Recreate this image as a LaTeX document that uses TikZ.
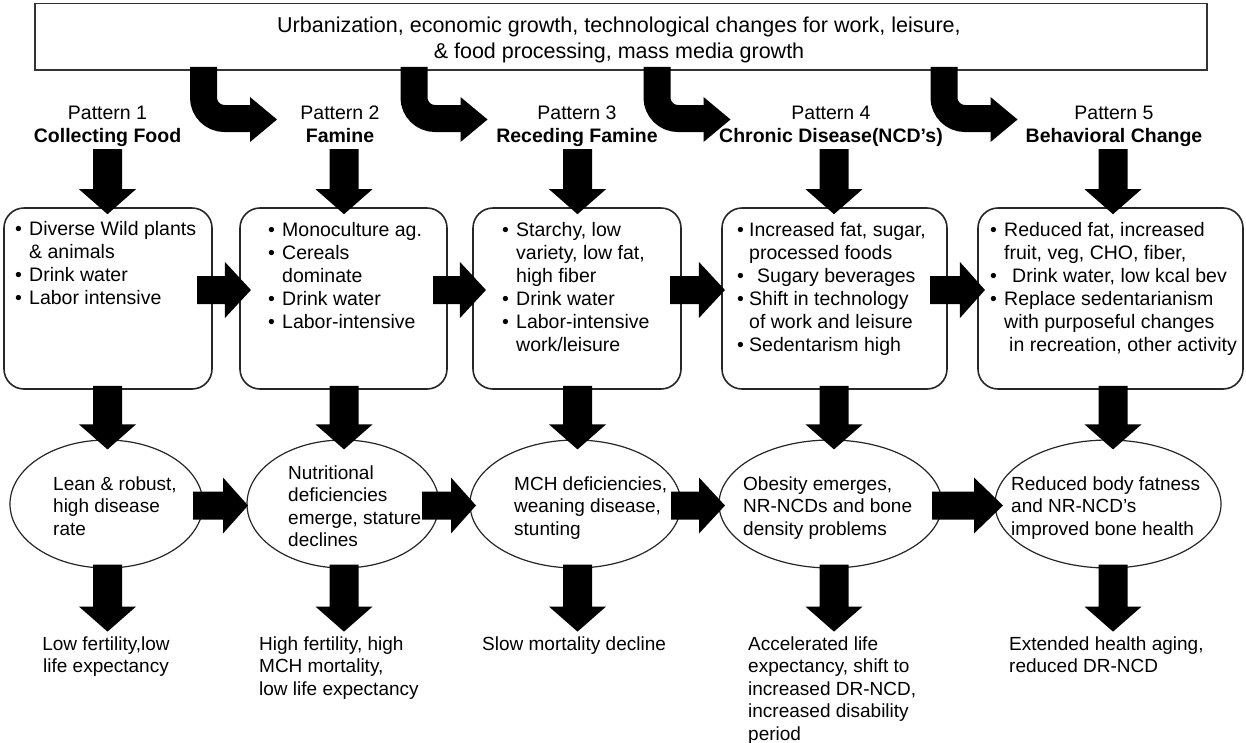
\documentclass[tikz,border=0pt]{standalone}
\usepackage{fontspec}
\setmainfont{Liberation Sans}
\usetikzlibrary{calc,shapes.geometric}
\newcommand{\mylines}[1]{\begin{tabular}[t]{@{}l@{}}#1\end{tabular}}
\newcommand{\mycent}[1]{\begin{tabular}[t]{@{}c@{}}#1\end{tabular}}
\newcommand{\mybul}{\makebox[14pt][l]{•}}
\newcommand{\mybulb}{\makebox[12pt][l]{•}}
\newcommand{\myind}{\hspace*{14pt}}
\newcommand{\myvarrow}[2]{\fill[black] let \p1=(#1), \p2=(#2) in
 (\x2-14.5pt,\y1) -- (\x2+14.5pt,\y1) -- (\x2+14.5pt,\y2+25pt) -- (\x2+28.5pt,\y2+25pt)
 -- (\x2,\y2) -- (\x2-28.5pt,\y2+25pt) -- (\x2-14.5pt,\y2+25pt) -- cycle;}
\newcommand{\myharrow}[3]{\fill[black] let \p1=(#1), \p2=(#2) in
 (\x1,\y2+14pt) -- (\x2-#3,\y2+14pt) -- (\x2-#3,\y2+28pt) -- (\x2,\y2)
 -- (\x2-#3,\y2-28pt) -- (\x2-#3,\y2-14pt) -- (\x1,\y2-14pt) -- cycle;}
\newcommand{\mycarrow}[1]{%
 \draw[line width=27pt, rounded corners=21pt] let \p1=(#1) in
   (\x1,\y1) -- (\x1,-118.5pt) -- (\x1+47pt,-118.5pt);
 \fill[black] let \p1=(#1) in (\x1+46.5pt,-97pt) -- (\x1+73.5pt,-119.5pt) -- (\x1+46.5pt,-142pt) -- cycle;}
\tikzset{
  txt/.style={inner sep=0pt, font=\fontsize{19.5}{23}\selectfont},
  etxt/.style={inner sep=0pt, font=\fontsize{19}{22.5}\selectfont},
  boxstyle/.style={draw=black!85, line width=1.6pt, rounded corners=20pt,
     minimum height=181pt, inner sep=0pt},
  ellstyle/.style={ellipse, draw=black!85, line width=1.2pt,
     minimum height=128pt, inner sep=0pt},
}
\begin{document}
\begin{tikzpicture}[x=1pt,y=1pt]
\useasboundingbox (0,0) rectangle (1246,-742);
\fill[white] (0,0) rectangle (1246,-742);

% banner
\node[draw=black!80, line width=1.8pt, minimum width=1172pt, minimum height=66.5pt, inner sep=0pt] (ban) at (621,-36.75) {};
\node[inner sep=0pt, anchor=base, font=\fontsize{21.5}{26}\selectfont] (bant) at (619,-32.5)
  {\mycent{Urbanization, economic growth, technological changes for work, leisure,\\ \& food processing, mass media growth}};

% curved arrows
\mycarrow{$(ban.south)+(-417.5,4)$}
\mycarrow{$(ban.south)+(-207,4)$}
\mycarrow{$(ban.south)+(36,4)$}
\mycarrow{$(ban.south)+(323,4)$}

% titles
\node[txt, anchor=base] (p1) at (107.5,-119) {\mycent{Pattern 1\\\textbf{Collecting Food}}};
\node[txt, anchor=base] (p2) at (340,-119) {\mycent{Pattern 2\\\textbf{Famine}}};
\node[txt, anchor=base] (p3) at (577,-119) {\mycent{Pattern 3\\\textbf{Receding Famine}}};
\node[txt, anchor=base] (p4) at (831,-119) {\mycent{Pattern 4\\\textbf{Chronic Disease(NCD’s)}}};
\node[txt, anchor=base] (p5) at (1114,-119) {\mycent{Pattern 5\\\textbf{Behavioral Change}}};

% boxes
\node[boxstyle, minimum width=208pt] (b1) at (108,-298.5) {};
\node[boxstyle, minimum width=207pt] (b2) at (343.5,-298.5) {};
\node[boxstyle, minimum width=208pt] (b3) at (577,-298.5) {};
\node[boxstyle, minimum width=225pt] (b4) at (834.5,-298.5) {};
\node[boxstyle, minimum width=265pt] (b5) at (1110.5,-298.5) {};

\node[txt, anchor=base west] (bt1) at (15,-235) {\mylines{\mybul Diverse Wild plants\\ \myind \& animals\\ \mybul Drink water\\ \mybul Labor intensive}};
\node[txt, anchor=base west] (bt2) at (268,-236) {\mylines{\mybul Monoculture ag.\\ \mybul Cereals\\ \myind dominate\\ \mybul Drink water\\ \mybul Labor-intensive}};
\node[txt, anchor=base west] (bt3) at (502,-236) {\mylines{\mybul Starchy, low\\ \myind variety, low fat,\\ \myind high fiber\\ \mybul Drink water\\ \mybul Labor-intensive\\ \myind work/leisure}};
\node[txt, anchor=base west] (bt4) at (737,-236) {\mylines{\mybulb Increased fat, sugar,\\ \hspace*{12pt}processed foods\\ \mybulb\hspace*{8pt}Sugary beverages\\ \mybulb Shift in technology\\ \hspace*{12pt}of work and leisure\\ \mybulb Sedentarism high}};
\node[txt, anchor=base west] (bt5) at (990,-236) {\mylines{\mybul Reduced fat, increased\\ \myind fruit, veg, CHO, fiber,\\ \mybul\hspace*{8pt}Drink water, low kcal bev\\ \mybul Replace sedentarianism\\ \myind with purposeful changes\\ \myind\hspace*{5pt}in recreation, other activity}};

% ellipses
\node[ellstyle, minimum width=193pt] (e1) at (106.5,-504) {};
\node[ellstyle, minimum width=192pt] (e2) at (343,-504) {};
\node[ellstyle, minimum width=211pt] (e3) at (575.5,-504) {};
\node[ellstyle, minimum width=223pt] (e4) at (830.5,-504) {};
\node[ellstyle, minimum width=226pt] (e5) at (1108,-504) {};

\node[etxt, anchor=base west] (et1) at (53,-490) {\mylines{Lean \& robust,\\ high disease\\ rate}};
\node[etxt, anchor=base west] (et2) at (288,-479) {\mylines{Nutritional\\ deficiencies\\ emerge, stature\\ declines}};
\node[etxt, anchor=base west] (et3) at (514,-490) {\mylines{MCH deficiencies,\\ weaning disease,\\ stunting}};
\node[etxt, anchor=base west] (et4) at (743,-490) {\mylines{Obesity emerges,\\ NR-NCDs and bone\\ density problems}};
\node[etxt, anchor=base west] (et5) at (1011,-490) {\mylines{Reduced body fatness\\ and NR-NCD’s\\ improved bone health}};

% results
\node[etxt, anchor=base] (r1) at (106,-650) {\mycent{Low fertility,low\\ life expectancy}};
\node[etxt, anchor=base west] (r2) at (259,-650) {\mylines{High fertility, high\\ MCH mortality,\\ low life expectancy}};
\node[etxt, anchor=base west] (r3) at (482,-650) {\mylines{Slow mortality decline}};
\node[etxt, anchor=base west] (r4) at (748,-650) {\mylines{Accelerated life\\ expectancy, shift to\\ increased DR-NCD,\\ increased disability\\ period}};
\node[etxt, anchor=base west] (r5) at (1009,-650) {\mylines{Extended health aging,\\ reduced DR-NCD}};

% vertical arrows: titles -> boxes
\myvarrow{$(b1.north)+(-0.5,58)$}{$(b1.north)+(-0.5,-7)$}
\myvarrow{$(b2.north)+(0.5,58)$}{$(b2.north)+(0.5,-7)$}
\myvarrow{$(b3.north)+(0.5,58)$}{$(b3.north)+(0.5,-7)$}
\myvarrow{$(b4.north)+(-0.5,58)$}{$(b4.north)+(-0.5,-7)$}
\myvarrow{$(b5.north)+(2.5,58)$}{$(b5.north)+(2.5,-7)$}
% boxes -> ellipses
\myvarrow{$(b1.south)+(0,4)$}{$(e1.north)+(1,-10)$}
\myvarrow{$(b2.south)+(0,4)$}{$(e2.north)+(1,-10)$}
\myvarrow{$(b3.south)+(0,4)$}{$(e3.north)+(2,-10)$}
\myvarrow{$(b4.south)+(0,4)$}{$(e4.north)+(3.5,-10)$}
\myvarrow{$(b5.south)+(0,4)$}{$(e5.north)+(5,-10)$}
% ellipses -> results
\myvarrow{$(e1.south)+(0,4)$}{$(e1.south)+(1,-63)$}
\myvarrow{$(e2.south)+(0,4)$}{$(e2.south)+(1,-63)$}
\myvarrow{$(e3.south)+(0,4)$}{$(e3.south)+(2,-63)$}
\myvarrow{$(e4.south)+(0,4)$}{$(e4.south)+(3.5,-63)$}
\myvarrow{$(e5.south)+(0,4)$}{$(e5.south)+(5,-63)$}

% horizontal arrows between boxes
\myharrow{$(b1.east)+(-15.75,8.5)$}{$(b2.west)+(11.75,8.5)$}{26pt}
\myharrow{$(b2.east)+(-14.75,8.5)$}{$(b3.west)+(13.75,8.5)$}{26pt}
\myharrow{$(b3.east)+(-11.75,8.5)$}{$(b4.west)+(3.75,8.5)$}{26pt}
\myharrow{$(b4.east)+(-17.75,8.5)$}{$(b5.west)+(7.75,8.5)$}{25pt}
% horizontal arrows between ellipses
\myharrow{$(e1.east)+(-10.6,-1.5)$}{$(e2.west)+(1.6,-1.5)$}{25pt}
\myharrow{$(e2.east)+(-17.6,-1.5)$}{$(e3.west)+(6.6,-1.5)$}{25pt}
\myharrow{$(e3.east)+(-10.6,-1.5)$}{$(e4.west)+(6.6,-1.5)$}{26pt}
\myharrow{$(e4.east)+(-10.6,-1.5)$}{$(e5.west)+(8.6,-1.5)$}{29pt}
\end{tikzpicture}
\end{document}
